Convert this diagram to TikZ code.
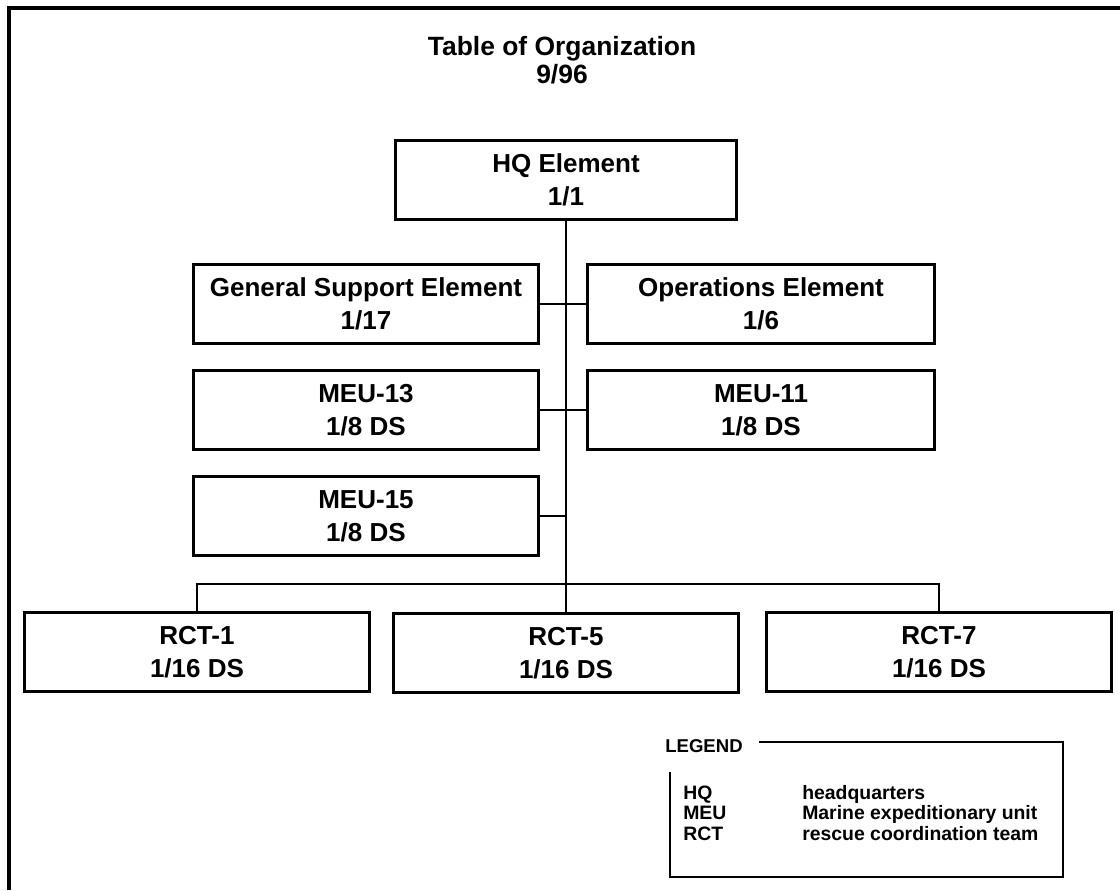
\documentclass[tikz,border=0pt]{standalone}
\usepackage{fontspec}
\setmainfont{Liberation Sans}
\usepackage{tikz}
\usetikzlibrary{positioning}

\begin{document}
\begin{tikzpicture}[
        x=0.025cm, y=-0.025cm,
        unit/.style={rectangle, draw=black, line width=2pt, minimum width=8.625cm, minimum height=1.975cm, align=center, font=\fontsize{18.5}{23.5}\selectfont\bfseries},
        link/.style={line width=1.5pt},
        frame/.style={line width=2.8pt},
        legendline/.style={line width=1.6pt},
        legendtext/.style={anchor=base west, inner sep=0pt, font=\fontsize{13.8}{16}\selectfont\bfseries}
    ]
    \useasboundingbox (0,0) rectangle (1120,890);

    % Outer frame (only top and left edges show)
    \draw[frame] (9,890) -- (9,8) -- (1120,8);

    % Title
    \node[align=center, font=\fontsize{18.8}{20}\selectfont\bfseries] (title) at (562,60) {Table of Organization\\9/96};

    % Headquarters
    \node[unit, minimum width=8.525cm] (hq) at (566,180) {HQ Element\\1/1};

    % Elements and MEUs
    \node[unit] (gse) at (366,304) {General Support Element\\1/17};
    \node[unit, minimum width=8.675cm] (ops) at (761,304) {Operations Element\\1/6};
    \node[unit] (meu13) at (366,410) {MEU-13\\1/8 DS};
    \node[unit, minimum width=8.675cm] (meu11) at (761,410) {MEU-11\\1/8 DS};
    \node[unit] (meu15) at (366,516) {MEU-15\\1/8 DS};

    % RCTs
    \node[unit] (rct1) at (197,652) {RCT-1\\1/16 DS};
    \node[unit] (rct5) at (566,653) {RCT-5\\1/16 DS};
    \node[unit] (rct7) at (939,652) {RCT-7\\1/16 DS};

    % Connectors
    \coordinate (bus) at (566,584);
    \draw[link] (hq.south) -- (rct5.north);
    \draw[link] (gse.east) -- (ops.west);
    \draw[link] (meu13.east) -- (meu11.west);
    \draw[link] (meu15.east) -- (meu15.east -| bus);
    \draw[link] (rct1.north) -- (rct1.north |- bus) -- (rct7.north |- bus) -- (rct7.north);

    % Legend
    \node[inner sep=0pt, font=\fontsize{13.2}{16}\selectfont\bfseries] (legend) at (704,746) {LEGEND};
    \draw[legendline] ([xshift=0.4cm]legend.east |- 0,742) -| (1063,877) -| (670,772);
    \node[legendtext] (hqabbr) at (683,799) {HQ};
    \node[legendtext] (hqdef) at (802,799) {headquarters};
    \node[legendtext] (meuabbr) at (683,819) {MEU};
    \node[legendtext] (meudef) at (802,819) {Marine expeditionary unit};
    \node[legendtext] (rctabbr) at (683,840) {RCT};
    \node[legendtext] (rctdef) at (802,840) {rescue coordination team};

\end{tikzpicture}
\end{document}
